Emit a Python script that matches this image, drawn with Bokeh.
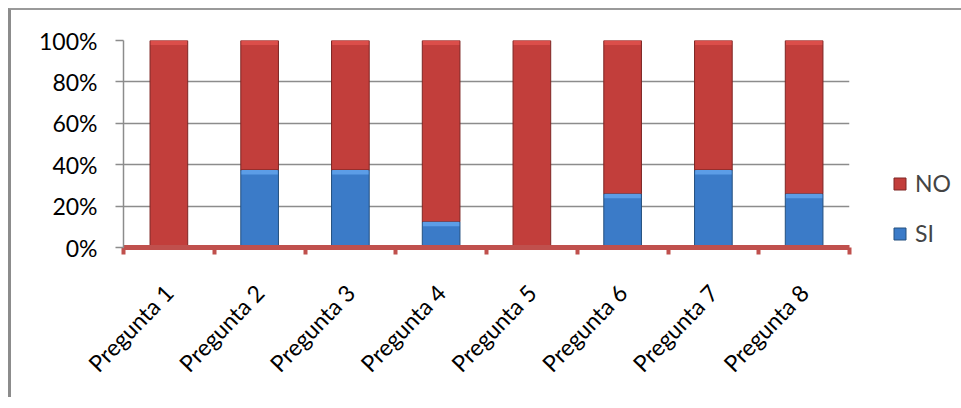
import math
from bokeh.plotting import figure
from bokeh.models import (ColumnDataSource, Range1d, FixedTicker, NumeralTickFormatter,
                          Legend, LegendItem)
from bokeh.embed import file_html
from bokeh.resources import INLINE

categories = ["Pregunta 1", "Pregunta 2", "Pregunta 3", "Pregunta 4",
              "Pregunta 5", "Pregunta 6", "Pregunta 7", "Pregunta 8"]
si_values = [0.0, 0.375, 0.375, 0.125, 0.0, 0.26, 0.375, 0.26]
no_values = [1.0, 0.625, 0.625, 0.875, 1.0, 0.74, 0.625, 0.74]
y_ticks = [0, 0.2, 0.4, 0.6, 0.8, 1.0]

positions = list(range(1, len(categories) + 1))
bounds = [p - 0.5 for p in positions] + [positions[-1] + 0.5]

source = ColumnDataSource(dict(x=positions, SI=si_values, NO=no_values))

# bevel highlight strips at the top of each segment (derived from the data)
BEVEL = 0.022
si_x = [x for x, v in zip(positions, si_values) if v > 0]
si_top = [v for v in si_values if v > 0]
no_top = [s + n for s, n in zip(si_values, no_values)]

FONT = "Lato"

p = figure(frame_width=726, frame_height=207, output_backend="svg", toolbar_location=None,
           x_range=Range1d(0.5, 8.5), y_range=Range1d(0, 1),
           min_border_left=112, min_border_right=100, min_border_top=30,
           min_border_bottom=150)
p.styles = {"margin": "8px 0 0 8px",
            "border-left": "3px solid #8c8c8c", "border-top": "2px solid #9a9a9a"}
p.outline_line_color = None
p.background_fill_color = "white"

BAR_W = 0.415
renderers = p.vbar_stack(["SI", "NO"], x="x", width=BAR_W, source=source,
                         fill_color=["#3B7BC8", "#C23E3B"],
                         line_color=["#24507F", "#7E2624"], line_width=1)

p.vbar(x=si_x, bottom=[t - BEVEL for t in si_top], top=si_top, width=BAR_W - 0.015,
       fill_color="#5C9DE6", line_color=None)
p.vbar(x=positions, bottom=[t - BEVEL for t in no_top], top=no_top, width=BAR_W - 0.015,
       fill_color="#DB4E4A", line_color=None)

# Y axis
p.yaxis.ticker = FixedTicker(ticks=y_ticks)
p.yaxis.formatter = NumeralTickFormatter(format="0%")
p.yaxis.axis_line_color = "#8c8c8c"
p.yaxis.axis_line_width = 1.5
p.yaxis.major_tick_line_color = "#8c8c8c"
p.yaxis.major_tick_line_width = 1.5
p.yaxis.major_tick_out = 8
p.yaxis.major_tick_in = 0
p.yaxis.minor_tick_line_color = None
p.yaxis.major_label_text_font = FONT
p.yaxis.major_label_text_font_size = "23px"
p.yaxis.major_label_text_color = "#000000"
p.yaxis.major_label_standoff = 18

p.ygrid.ticker = FixedTicker(ticks=y_ticks)
p.ygrid.grid_line_color = "#8c8c8c"
p.ygrid.grid_line_width = 1.5
p.xgrid.grid_line_color = None

# X axis
p.xaxis.ticker = FixedTicker(ticks=positions, minor_ticks=bounds)
p.xaxis.major_label_overrides = {pos: cat for pos, cat in zip(positions, categories)}
p.xaxis.axis_line_color = "#C0504D"
p.xaxis.axis_line_width = 5
p.xaxis.major_tick_line_color = None
p.xaxis.minor_tick_line_color = "#C0504D"
p.xaxis.minor_tick_line_width = 4
p.xaxis.minor_tick_out = 7
p.xaxis.minor_tick_in = 0
p.xaxis.major_label_orientation = 0.8
p.xaxis.major_label_text_font = FONT
p.xaxis.major_label_text_font_size = "23px"
p.xaxis.major_label_text_color = "#000000"
p.xaxis.major_label_standoff = 34

legend = Legend(items=[LegendItem(label="NO", renderers=[renderers[1]]),
                       LegendItem(label="SI", renderers=[renderers[0]])],
                location=(43, 0), border_line_color=None, background_fill_alpha=0,
                glyph_width=15, glyph_height=15, label_standoff=8, spacing=22,
                padding=0, margin=0, label_text_font=FONT,
                label_text_font_size="23px", label_height=20)
p.add_layout(legend, "right")

open("out.html", "w").write(file_html(p, INLINE))
